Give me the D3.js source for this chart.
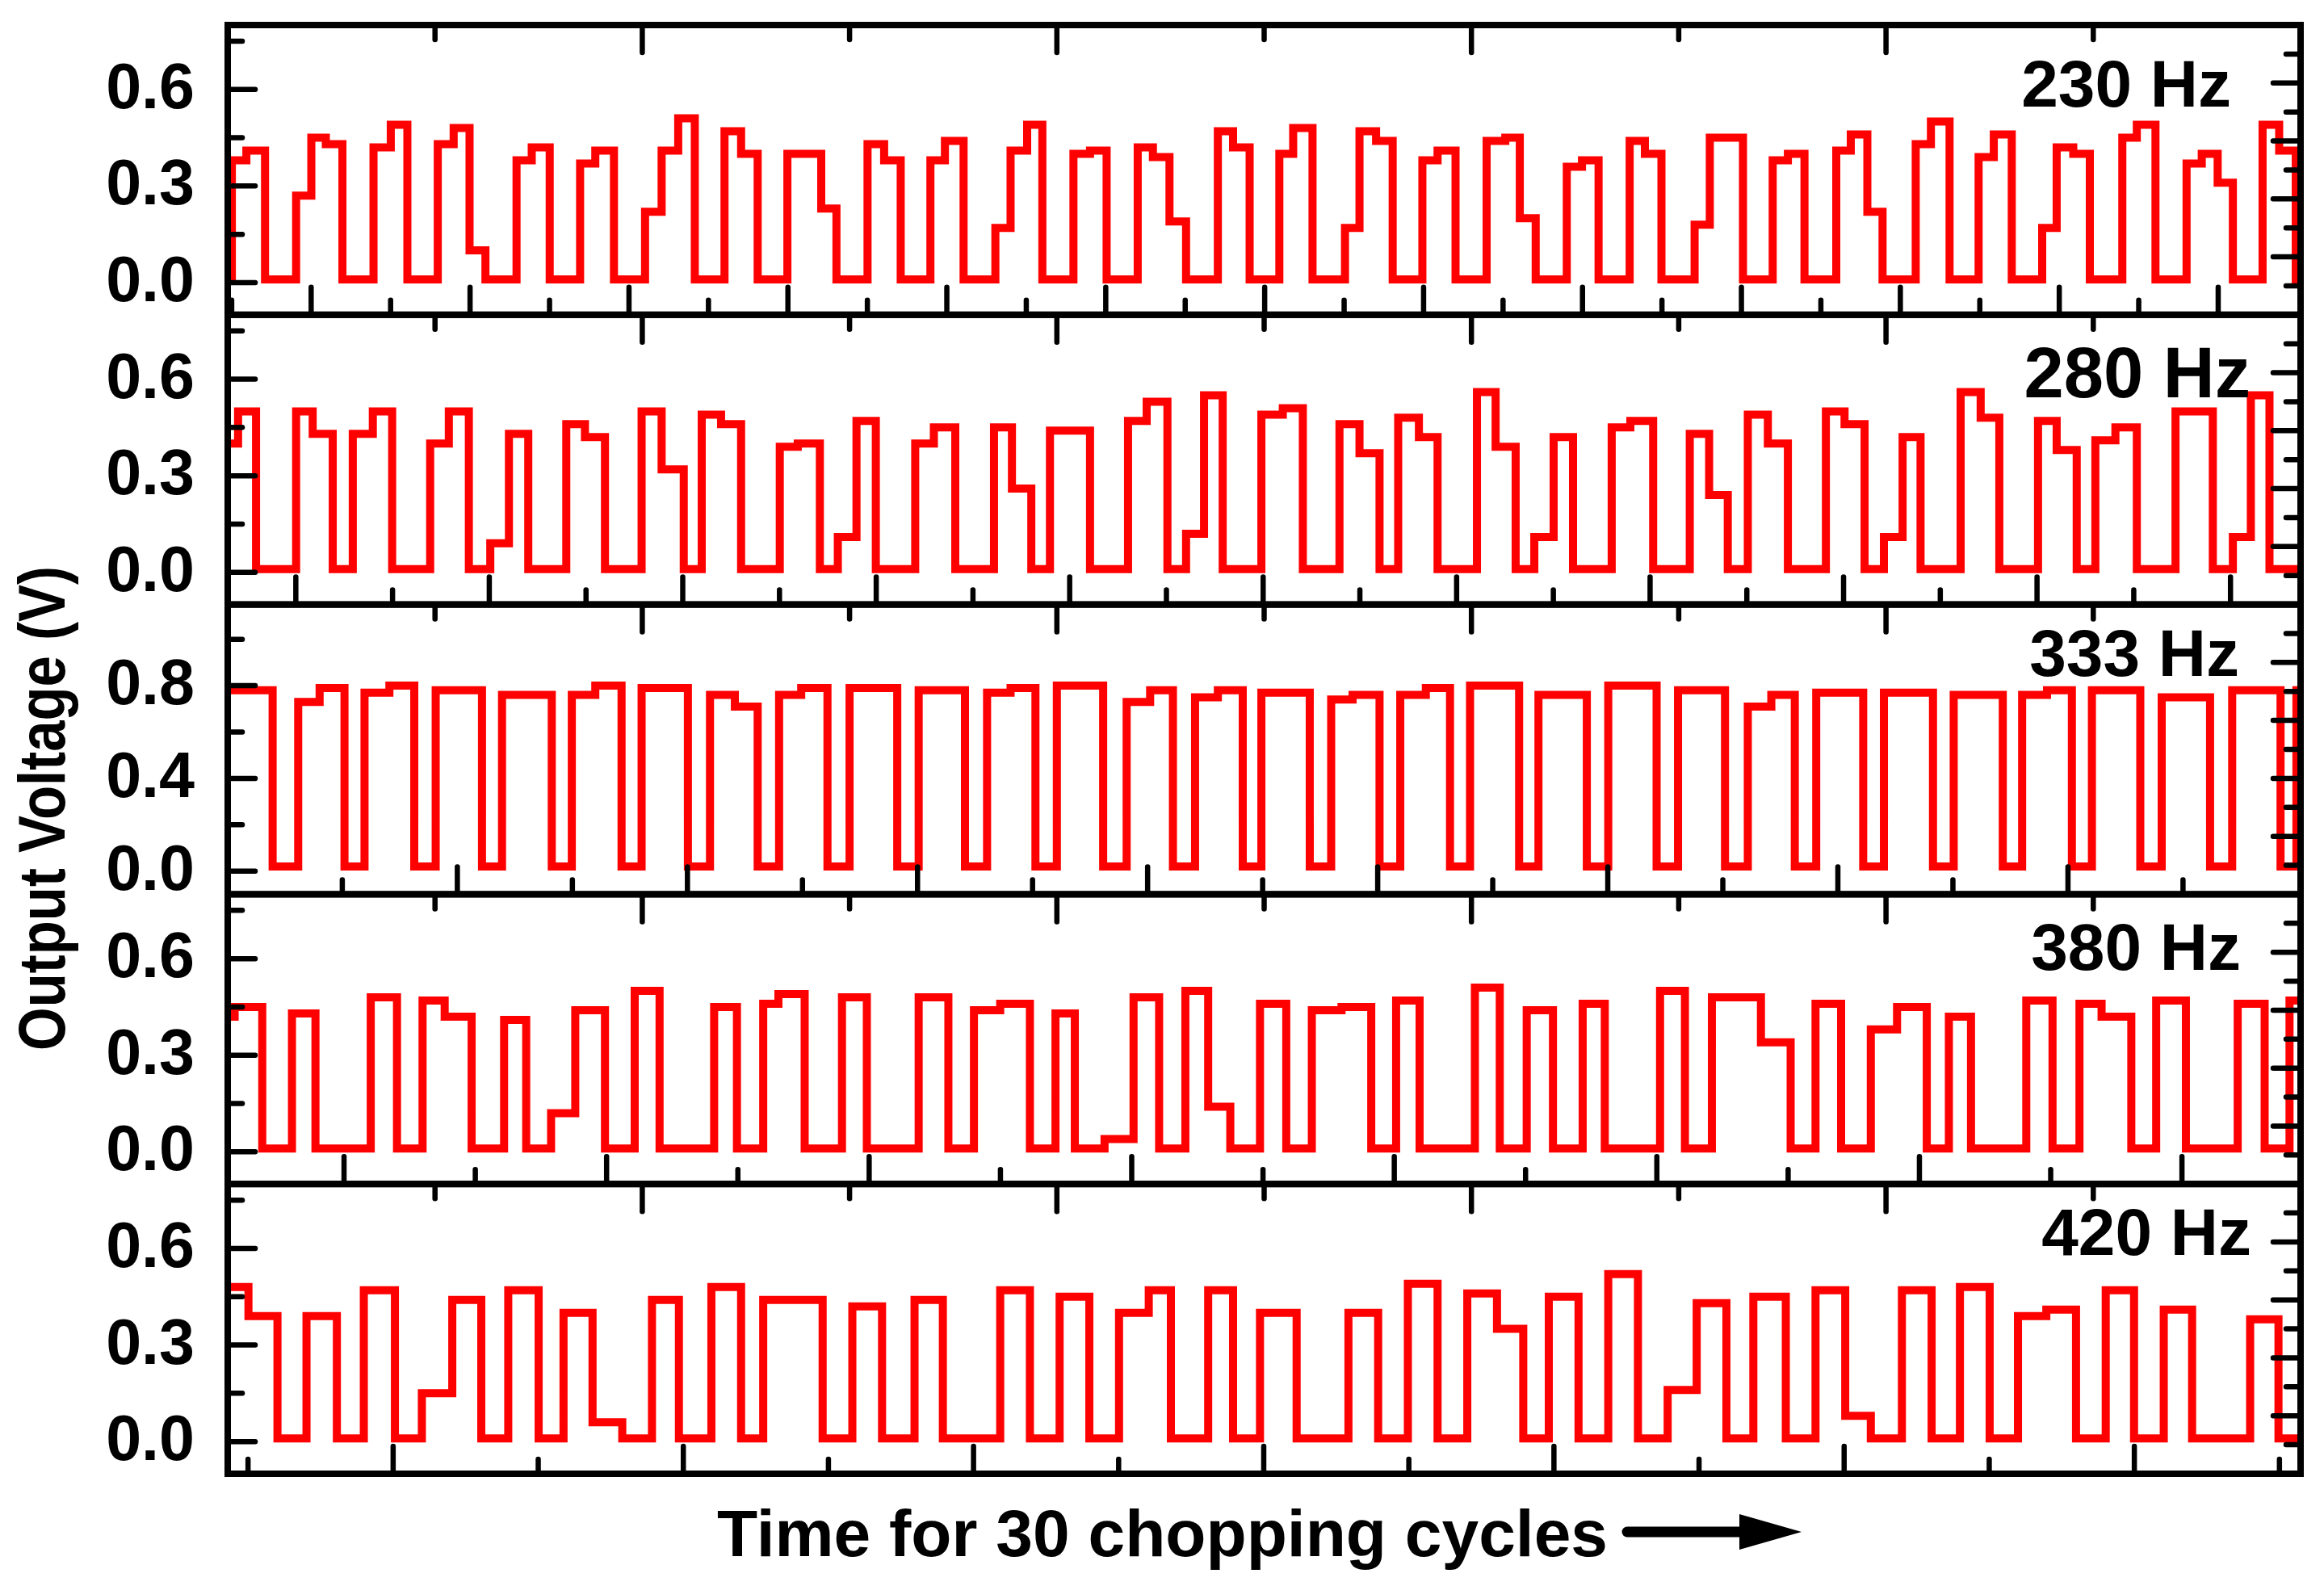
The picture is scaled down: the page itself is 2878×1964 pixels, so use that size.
<!DOCTYPE html>
<html>
<head>
<meta charset="utf-8">
<script src="https://cdn.jsdelivr.net/npm/d3@7"></script>
<style>
  html, body { margin: 0; padding: 0; background: #ffffff; }
  svg { display: block; }
  text { font-family: "Liberation Sans", Arial, Helvetica, sans-serif; font-weight: bold; fill: #000; }
</style>
</head>
<body>
<svg id="chart" width="2878" height="1964"></svg>
<script>
// ---------------- DATA ----------------
const frequencies = [230, 280, 333, 380, 420];              // Hz
const freqLabels = ["230 Hz", "280 Hz", "333 Hz", "380 Hz", "420 Hz"];
const yDomains = [[-0.1, 0.8], [-0.1, 0.8], [-0.1, 1.15], [-0.1, 0.8], [-0.1, 0.8]];
const yMajorTicks = [[0, 0.3, 0.6], [0, 0.3, 0.6], [0, 0.4, 0.8], [0, 0.3, 0.6], [0, 0.3, 0.6]];
const yMinorTicks = [[0.15, 0.45, 0.75], [0.15, 0.45, 0.75], [0.2, 0.6, 1.0], [0.15, 0.45, 0.75], [0.15, 0.45, 0.75]];
const yTickLabels = [["0.0", "0.3", "0.6"], ["0.0", "0.3", "0.6"], ["0.0", "0.4", "0.8"], ["0.0", "0.3", "0.6"], ["0.0", "0.3", "0.6"]];
// time (ms) at the left edge of each panel (bottom time axis, ticks every 5 ms)
const timeStartMs = [4.75, 6.48, 0.02, 5.57, 4.30];
const cyclesShown = 30;
// traces: [time in chopping cycles, output voltage (V)], held until next point
const trace230 = [
  [0, 0.01], [0.06, 0.38], [0.27, 0.41], [0.54, 0.01], [0.99, 0.27], [1.21, 0.45], [1.42, 0.43], [1.66, 0.01],
  [2.11, 0.42], [2.36, 0.49], [2.60, 0.01], [3.04, 0.43], [3.27, 0.48], [3.50, 0.10], [3.73, 0.01],
  [4.18, 0.38], [4.40, 0.42], [4.66, 0.01], [5.10, 0.37], [5.32, 0.41], [5.59, 0.01],
  [6.04, 0.22], [6.28, 0.41], [6.52, 0.51], [6.76, 0.01], [7.19, 0.47], [7.43, 0.40], [7.67, 0.01],
  [8.10, 0.40], [8.59, 0.23], [8.81, 0.01], [9.26, 0.43], [9.50, 0.38], [9.74, 0.01],
  [10.17, 0.38], [10.38, 0.44], [10.65, 0.01], [11.11, 0.17], [11.33, 0.41], [11.57, 0.49], [11.79, 0.01],
  [12.24, 0.40], [12.48, 0.41], [12.72, 0.01], [13.17, 0.42], [13.39, 0.39], [13.63, 0.19], [13.87, 0.01],
  [14.33, 0.47], [14.55, 0.42], [14.79, 0.01],
  [15.22, 0.40], [15.42, 0.48], [15.70, 0.01], [16.17, 0.17], [16.38, 0.47], [16.62, 0.44], [16.86, 0.01],
  [17.29, 0.38], [17.51, 0.41], [17.77, 0.01], [18.22, 0.44], [18.49, 0.45], [18.70, 0.20], [18.93, 0.01],
  [19.38, 0.36], [19.60, 0.38], [19.84, 0.01], [20.29, 0.44], [20.51, 0.40], [20.75, 0.01],
  [21.23, 0.18], [21.45, 0.45], [21.93, 0.01], [22.36, 0.38], [22.58, 0.40], [22.82, 0.01],
  [23.28, 0.41], [23.49, 0.46], [23.73, 0.22], [23.95, 0.01], [24.43, 0.43], [24.65, 0.50], [24.92, 0.01],
  [25.34, 0.39], [25.56, 0.46], [25.82, 0.01], [26.26, 0.17], [26.47, 0.42], [26.71, 0.40], [26.95, 0.01],
  [27.42, 0.45], [27.63, 0.49], [27.90, 0.01], [28.35, 0.37], [28.57, 0.40], [28.80, 0.31], [29.02, 0.01],
  [29.45, 0.49], [29.69, 0.41], [29.93, 0.0], [30, 0.0]
];
const trace280 = [
  [0, 0.40], [0.15, 0.50], [0.41, 0.01], [0.99, 0.50], [1.23, 0.43], [1.52, 0.01], [1.81, 0.43], [2.10, 0.50], [2.38, 0.01],
  [2.93, 0.40], [3.20, 0.50], [3.49, 0.01], [3.80, 0.09], [4.07, 0.43], [4.35, 0.01],
  [4.90, 0.46], [5.17, 0.42], [5.46, 0.01], [5.99, 0.50], [6.28, 0.32], [6.60, 0.01],
  [6.86, 0.49], [7.14, 0.46], [7.43, 0.01], [7.99, 0.39], [8.25, 0.40], [8.57, 0.01],
  [8.83, 0.11], [9.10, 0.47], [9.38, 0.01], [9.95, 0.40], [10.22, 0.45], [10.53, 0.01],
  [11.09, 0.45], [11.35, 0.26], [11.63, 0.01], [11.90, 0.44], [12.48, 0.01],
  [13.03, 0.47], [13.30, 0.53], [13.60, 0.01], [13.87, 0.12], [14.13, 0.55], [14.40, 0.01],
  [14.96, 0.49], [15.27, 0.51], [15.56, 0.01], [16.09, 0.46], [16.38, 0.37], [16.67, 0.01],
  [16.94, 0.48], [17.24, 0.42], [17.51, 0.01], [18.08, 0.56], [18.35, 0.39], [18.64, 0.01],
  [18.91, 0.11], [19.19, 0.42], [19.47, 0.01], [20.03, 0.45], [20.30, 0.47], [20.63, 0.01],
  [21.16, 0.43], [21.44, 0.24], [21.71, 0.01], [22.00, 0.49], [22.29, 0.40], [22.58, 0.01],
  [23.13, 0.50], [23.40, 0.46], [23.69, 0.01], [23.97, 0.11], [24.24, 0.42], [24.50, 0.01],
  [25.08, 0.56], [25.37, 0.48], [25.64, 0.01], [26.20, 0.47], [26.47, 0.38], [26.76, 0.01],
  [27.03, 0.41], [27.32, 0.45], [27.63, 0.01], [28.19, 0.50], [28.73, 0.01],
  [29.02, 0.11], [29.28, 0.55], [29.55, 0.01], [30, 0.01]
];
const trace333 = [
  [0, 0.78], [0.65, 0.02], [1.02, 0.73], [1.33, 0.79], [1.69, 0.02], [1.98, 0.77], [2.34, 0.80], [2.70, 0.02],
  [3.01, 0.78], [3.68, 0.02], [3.97, 0.76], [4.69, 0.02], [4.98, 0.76], [5.32, 0.80], [5.70, 0.02],
  [5.99, 0.79], [6.66, 0.02], [6.98, 0.76], [7.34, 0.71], [7.67, 0.02], [7.98, 0.76], [8.30, 0.79], [8.68, 0.02],
  [9.00, 0.79], [9.69, 0.02], [10.00, 0.78], [10.67, 0.02], [10.99, 0.77], [11.33, 0.79], [11.69, 0.02],
  [12.00, 0.80], [12.67, 0.02], [13.01, 0.73], [13.35, 0.78], [13.68, 0.02], [14.00, 0.75], [14.33, 0.78], [14.69, 0.02],
  [14.96, 0.77], [15.66, 0.02], [15.97, 0.74], [16.28, 0.76], [16.67, 0.02], [16.97, 0.76], [17.34, 0.79], [17.69, 0.02],
  [17.98, 0.80], [18.69, 0.02], [18.97, 0.76], [19.67, 0.02], [19.98, 0.80], [20.68, 0.02],
  [20.99, 0.78], [21.67, 0.02], [22.00, 0.71], [22.34, 0.76], [22.68, 0.02], [22.99, 0.77], [23.67, 0.02],
  [23.97, 0.77], [24.68, 0.02], [24.98, 0.76], [25.69, 0.02], [25.97, 0.76], [26.33, 0.78], [26.69, 0.02],
  [26.98, 0.78], [27.68, 0.02], [27.99, 0.75], [28.69, 0.02], [29.01, 0.78], [29.71, 0.02], [29.94, 0.78], [30, 0.78]
];
const trace380 = [
  [0, 0.42], [0.10, 0.45], [0.50, 0.01], [0.93, 0.43], [1.27, 0.01], [2.07, 0.48], [2.45, 0.01],
  [2.82, 0.47], [3.14, 0.42], [3.53, 0.01], [4.00, 0.41], [4.32, 0.01], [4.68, 0.12], [5.03, 0.44], [5.46, 0.01],
  [5.89, 0.50], [6.25, 0.01], [7.04, 0.45], [7.37, 0.01], [7.75, 0.46], [7.97, 0.49], [8.35, 0.01],
  [8.89, 0.48], [9.25, 0.01], [10.00, 0.48], [10.43, 0.01], [10.80, 0.44], [11.18, 0.46], [11.61, 0.01],
  [11.98, 0.43], [12.26, 0.01], [12.69, 0.04], [13.11, 0.48], [13.48, 0.01], [13.86, 0.50], [14.19, 0.14], [14.51, 0.01],
  [14.94, 0.46], [15.32, 0.01], [15.69, 0.44], [16.12, 0.45], [16.55, 0.01], [16.91, 0.47], [17.25, 0.01],
  [18.05, 0.51], [18.41, 0.01], [18.80, 0.44], [19.18, 0.01], [19.61, 0.46], [19.93, 0.01],
  [20.73, 0.50], [21.09, 0.01], [21.48, 0.48], [22.19, 0.34], [22.62, 0.01], [22.98, 0.46], [23.35, 0.01],
  [23.78, 0.38], [24.16, 0.45], [24.59, 0.01], [24.91, 0.42], [25.23, 0.01], [26.03, 0.47], [26.41, 0.01],
  [26.80, 0.46], [27.12, 0.42], [27.55, 0.01], [27.91, 0.47], [28.34, 0.01], [29.09, 0.46], [29.48, 0.01],
  [29.84, 0.47], [30, 0.47]
];
const trace420 = [
  [0, 0.48], [0.30, 0.39], [0.72, 0.01], [1.14, 0.39], [1.58, 0.01], [1.97, 0.47], [2.42, 0.01],
  [2.81, 0.15], [3.25, 0.44], [3.67, 0.01], [4.06, 0.47], [4.50, 0.01], [4.86, 0.40], [5.28, 0.06], [5.71, 0.01],
  [6.14, 0.44], [6.53, 0.01], [7.00, 0.48], [7.43, 0.01], [7.75, 0.44], [8.61, 0.01], [9.04, 0.42], [9.47, 0.01],
  [9.94, 0.44], [10.35, 0.01], [11.18, 0.47], [11.61, 0.01], [12.04, 0.45], [12.47, 0.01],
  [12.90, 0.40], [13.33, 0.47], [13.65, 0.01], [14.19, 0.47], [14.55, 0.01], [14.94, 0.40], [15.47, 0.01],
  [16.22, 0.40], [16.65, 0.01], [17.08, 0.49], [17.51, 0.01], [17.94, 0.46], [18.37, 0.35], [18.75, 0.01],
  [19.12, 0.45], [19.55, 0.01], [19.98, 0.52], [20.41, 0.01], [20.84, 0.16], [21.26, 0.43], [21.69, 0.01],
  [22.08, 0.45], [22.55, 0.01], [22.98, 0.47], [23.41, 0.08], [23.78, 0.01], [24.23, 0.47], [24.66, 0.01],
  [25.07, 0.48], [25.50, 0.01], [25.91, 0.39], [26.32, 0.41], [26.75, 0.01], [27.18, 0.47], [27.59, 0.01],
  [28.02, 0.41], [28.43, 0.01], [29.27, 0.38], [29.68, 0.01], [30, 0.01]
];
const traces = [trace230, trace280, trace333, trace380, trace420];
const xAxisTitle = "Time for 30 chopping cycles";
const yAxisTitle = "Output Voltage (V)";

// ---------------- LAYOUT ----------------
const svg = d3.select("#chart");
const plotLeft = 282, plotRight = 2849, plotTop = 31, panelH = 358.8;
const majorLen = 34, minorLen = 18;
const labelFont = 79;

const x = d3.scaleLinear().domain([0, cyclesShown]).range([plotLeft, plotRight]);
// secondary (top / right) frame axes: 10 equal divisions
const topScale = d3.scaleLinear().domain([0, 10]).range([plotLeft, plotRight]);

svg.append("defs");

frequencies.forEach((f, i) => {
  const yTop = plotTop + i * panelH, yBot = yTop + panelH;
  const y = d3.scaleLinear().domain(yDomains[i]).range([yBot, yTop]);
  const rightScale = d3.scaleLinear().domain([0, 10]).range([yTop, yBot]);
  const spanMs = cyclesShown * 1000 / f;
  const tScale = d3.scaleLinear().domain([timeStartMs[i], timeStartMs[i] + spanMs]).range([plotLeft, plotRight]);

  const g = svg.append("g").attr("class", "panel");

  svg.select("defs").append("clipPath").attr("id", "clip" + i)
    .append("rect").attr("x", plotLeft).attr("y", yTop).attr("width", plotRight - plotLeft).attr("height", panelH);

  const line = d3.line().x(d => x(d[0])).y(d => y(d[1])).curve(d3.curveStepAfter);
  g.append("path").datum(traces[i])
    .attr("clip-path", "url(#clip" + i + ")")
    .attr("d", line)
    .attr("fill", "none").attr("stroke", "#ff0000").attr("stroke-width", 10)
    .attr("stroke-linejoin", "miter");

  const ticks = g.append("g").attr("stroke", "#000").attr("stroke-width", 6.5).attr("stroke-linecap", "round");
  yMajorTicks[i].forEach(v => ticks.append("line").attr("x1", plotLeft).attr("x2", plotLeft + majorLen).attr("y1", y(v)).attr("y2", y(v)));
  yMinorTicks[i].forEach(v => ticks.append("line").attr("x1", plotLeft).attr("x2", plotLeft + minorLen).attr("y1", y(v)).attr("y2", y(v)));
  d3.range(1, 10).forEach(k => {
    const len = k % 2 === 0 ? majorLen : minorLen;
    ticks.append("line").attr("x1", plotRight).attr("x2", plotRight - len).attr("y1", rightScale(k)).attr("y2", rightScale(k));
  });
  d3.range(1, 10).forEach(k => {
    const len = k % 2 === 0 ? majorLen : minorLen;
    ticks.append("line").attr("x1", topScale(k)).attr("x2", topScale(k)).attr("y1", yTop).attr("y2", yTop + len);
  });
  const tStart = Math.ceil(timeStartMs[i] / 5) * 5;
  const tEnd = timeStartMs[i] + spanMs;
  d3.range(tStart, tEnd - 0.3, 5).forEach(t => {
    const px = tScale(t);
    if (px < plotLeft + 4) return;
    const major = Math.round(t) % 10 === 0;
    ticks.append("line").attr("x1", px).attr("x2", px).attr("y1", yBot).attr("y2", yBot - (major ? majorLen : minorLen));
  });

  g.append("rect").attr("x", plotLeft).attr("y", yTop).attr("width", plotRight - plotLeft).attr("height", panelH)
    .attr("fill", "none").attr("stroke", "#000").attr("stroke-width", 8);

  yMajorTicks[i].forEach((v, j) => {
    g.append("text").attr("x", plotLeft - 41).attr("y", y(v) + 23)
      .attr("text-anchor", "end").attr("font-size", labelFont).text(yTickLabels[i][j]);
  });
});

// frequency labels
const freqLabelX = [2763, 2787, 2773, 2775, 2788];
const freqLabelDy = [101, 102, 88, 94, 88];
const freqLabelSize = [82, 88.5, 82, 82, 82];
freqLabels.forEach((s, i) => {
  svg.append("text").attr("x", freqLabelX[i]).attr("y", plotTop + i * panelH + freqLabelDy[i])
    .attr("text-anchor", "end").attr("font-size", freqLabelSize[i]).text(s);
});

// axis titles
svg.append("text").attr("transform", "translate(80,1001) rotate(-90)")
  .attr("text-anchor", "middle").attr("font-size", 82)
  .attr("textLength", 600).attr("lengthAdjust", "spacingAndGlyphs").text(yAxisTitle);
svg.append("text").attr("x", 888).attr("y", 1927).attr("font-size", 82)
  .attr("textLength", 1103).attr("lengthAdjust", "spacingAndGlyphs").text(xAxisTitle);

// arrow
svg.append("line").attr("x1", 2015).attr("x2", 2160).attr("y1", 1897).attr("y2", 1897)
  .attr("stroke", "#000").attr("stroke-width", 13).attr("stroke-linecap", "round");
svg.append("path").attr("d", "M2154,1875 L2231,1897 L2154,1919 Z").attr("fill", "#000");
</script>
</body>
</html>
